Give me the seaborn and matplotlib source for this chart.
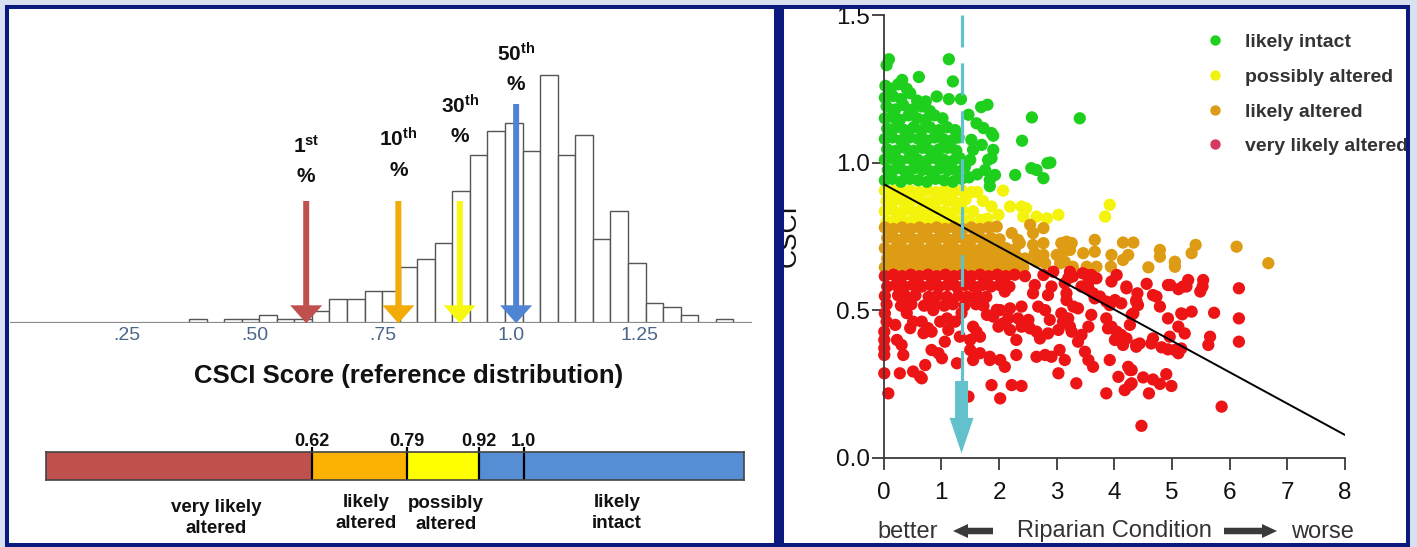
import numpy as np
import pandas as pd
import matplotlib
matplotlib.use("Agg")
import matplotlib.pyplot as plt
import seaborn as sns
from matplotlib.patches import Rectangle, FancyArrow
from matplotlib.lines import Line2D

# ====================== DATA ======================
# Left: reference distribution histogram (counts per bin)
hist_counts = [1, 0, 1, 1, 2, 1, 1, 3, 6, 6, 8, 8, 14, 16, 20, 33, 42, 48, 50, 43,
               62, 42, 47, 21, 28, 15, 5, 4, 2, 0, 1]
hist_first_edge = 0.371
hist_bin_width = 0.0343

axis_ticks = [0.25, 0.50, 0.75, 1.0, 1.25]
axis_tick_labels = [".25", ".50", ".75", "1.0", "1.25"]

pct_ordinals = ["1^{st}", "10^{th}", "30^{th}", "50^{th}"]
pct_positions = [0.60, 0.78, 0.90, 1.01]
pct_colors = ["#c0504d", "#f2ac05", "#f7f712", "#4f83d3"]

band_edges = [0.143, 0.62, 0.79, 0.92, 1.395]
band_colors = ["#c0504d", "#fbb203", "#ffff00", "#558ed5"]
band_marks = [0.62, 0.79, 0.92, 1.0]
band_mark_labels = ["0.62", "0.79", "0.92", "1.0"]
band_names = ["very likely\naltered", "likely\naltered", "possibly\naltered", "likely\nintact"]

# Right: CSCI vs riparian condition
status_order = ["likely intact", "possibly altered", "likely altered", "very likely altered"]
dot_colors = ["#1ecf1e", "#f3f30c", "#de9c14", "#ec1414"]
legend_colors = ["#1fd11f", "#f2f212", "#dc9c1a", "#d63a62"]

trend_x = [0, 8]
trend_y = [0.927, 0.077]
riparian_threshold = 1.35

green_pts = [
    (0.03, 1.26), (0.12, 1.25), (0.25, 1.265), (0.40, 1.25),
    (0.02, 1.22), (0.16, 1.225), (0.30, 1.215), (0.46, 1.235), (0.58, 1.21),
    (0.05, 1.19), (0.20, 1.18), (0.34, 1.195), (0.50, 1.18), (0.66, 1.19), (0.80, 1.175),
    (0.02, 1.15), (0.14, 1.155), (0.28, 1.145), (0.43, 1.16), (0.58, 1.15), (0.72, 1.145),
    (0.88, 1.16), (1.02, 1.15),
    (0.06, 1.115), (0.22, 1.12), (0.36, 1.11), (0.52, 1.12), (0.66, 1.11), (0.80, 1.12),
    (0.96, 1.11), (1.10, 1.12), (1.24, 1.11),
    (0.02, 1.08), (0.15, 1.085), (0.30, 1.075), (0.45, 1.085), (0.60, 1.08), (0.74, 1.075),
    (0.88, 1.085), (1.03, 1.08), (1.18, 1.075), (1.30, 1.085),
    (0.06, 1.045), (0.21, 1.04), (0.37, 1.05), (0.52, 1.04), (0.67, 1.05), (0.81, 1.04),
    (0.96, 1.045), (1.11, 1.05), (1.26, 1.04),
    (0.02, 1.01), (0.14, 1.015), (0.29, 1.005), (0.44, 1.015), (0.59, 1.01), (0.74, 1.005),
    (0.89, 1.015), (1.04, 1.01), (1.19, 1.005), (1.32, 1.015),
    (0.07, 0.975), (0.22, 0.98), (0.37, 0.97), (0.52, 0.98), (0.67, 0.975), (0.82, 0.97),
    (0.97, 0.98), (1.12, 0.975), (1.27, 0.97),
    (0.02, 0.94), (0.15, 0.945), (0.30, 0.935), (0.45, 0.945), (0.60, 0.94), (0.75, 0.935),
    (0.90, 0.945), (1.05, 0.94), (1.20, 0.935), (1.35, 0.945),
    (0.09, 1.35), (0.05, 1.33), (1.13, 1.35), (1.20, 1.275), (0.61, 1.29), (0.32, 1.28),
    (0.92, 1.224), (1.13, 1.215), (1.34, 1.215), (0.73, 1.207), (1.69, 1.188), (1.80, 1.196),
    (1.47, 1.162), (1.61, 1.133), (1.73, 1.117), (1.87, 1.10), (1.52, 1.077), (1.55, 1.043),
    (1.50, 1.009), (1.41, 0.986), (1.90, 1.043), (1.81, 1.009), (1.76, 0.975), (1.84, 0.941),
    (1.90, 1.091), (2.40, 1.074), (2.57, 1.153), (3.40, 1.150), (1.87, 1.015), (1.93, 0.958),
    (2.28, 0.958), (2.56, 0.981), (2.65, 0.975), (2.84, 0.998), (2.89, 1.00), (2.77, 0.947),
    (1.84, 0.92), (1.62, 0.96), (1.48, 0.95), (1.70, 1.06),
]

yellow_pts = [
    (0.02, 0.905), (0.16, 0.905), (0.31, 0.90), (0.46, 0.905), (0.61, 0.90), (0.76, 0.905),
    (0.91, 0.90), (1.06, 0.905), (1.21, 0.90), (1.36, 0.905), (1.52, 0.90),
    (0.05, 0.87), (0.20, 0.875), (0.35, 0.865), (0.50, 0.875), (0.65, 0.87), (0.80, 0.865),
    (0.95, 0.875), (1.10, 0.87), (1.25, 0.865), (1.42, 0.875),
    (0.02, 0.835), (0.16, 0.84), (0.31, 0.83), (0.46, 0.84), (0.61, 0.835), (0.76, 0.83),
    (0.91, 0.84), (1.06, 0.835), (1.20, 0.83), (1.36, 0.84), (1.55, 0.835),
    (0.05, 0.80), (0.20, 0.805), (0.35, 0.80), (0.50, 0.805), (0.65, 0.80), (0.80, 0.805),
    (0.95, 0.80), (1.12, 0.805), (1.30, 0.80), (1.48, 0.805),
    (2.07, 0.905), (1.87, 0.851), (2.19, 0.851), (2.39, 0.851), (2.47, 0.845), (1.99, 0.823),
    (1.69, 0.806), (2.42, 0.817), (2.65, 0.817), (2.83, 0.811), (3.03, 0.823), (3.92, 0.857),
    (3.84, 0.817), (1.72, 0.87), (1.62, 0.90), (1.80, 0.81),
]

orange_pts = [
    (0.02, 0.78), (0.17, 0.775), (0.32, 0.78), (0.47, 0.775), (0.62, 0.78), (0.77, 0.775),
    (0.92, 0.78), (1.07, 0.775), (1.22, 0.78), (1.37, 0.775), (1.52, 0.78), (1.67, 0.775),
    (1.82, 0.78),
    (0.06, 0.745), (0.21, 0.74), (0.36, 0.745), (0.51, 0.74), (0.66, 0.745), (0.81, 0.74),
    (0.96, 0.745), (1.11, 0.74), (1.26, 0.745), (1.41, 0.74), (1.56, 0.745), (1.71, 0.74),
    (1.86, 0.745), (2.01, 0.74),
    (0.02, 0.71), (0.17, 0.705), (0.32, 0.71), (0.47, 0.705), (0.62, 0.71), (0.77, 0.705),
    (0.92, 0.71), (1.07, 0.705), (1.22, 0.71), (1.37, 0.705), (1.52, 0.71), (1.67, 0.705),
    (1.82, 0.71), (1.97, 0.705), (2.12, 0.71), (2.27, 0.705),
    (0.06, 0.675), (0.21, 0.68), (0.36, 0.675), (0.51, 0.68), (0.66, 0.675), (0.81, 0.68),
    (0.96, 0.675), (1.11, 0.68), (1.26, 0.675), (1.41, 0.68), (1.56, 0.675), (1.71, 0.68),
    (1.86, 0.675), (2.01, 0.68), (2.16, 0.675), (2.31, 0.68), (2.45, 0.675),
    (0.02, 0.645), (0.17, 0.65), (0.32, 0.645), (0.47, 0.65), (0.62, 0.645), (0.77, 0.65),
    (0.92, 0.645), (1.07, 0.65), (1.22, 0.645), (1.37, 0.65), (1.52, 0.645), (1.67, 0.65),
    (1.82, 0.645), (1.97, 0.65), (2.12, 0.645), (2.27, 0.65), (2.42, 0.645),
    (1.96, 0.783), (2.22, 0.761), (2.33, 0.738), (2.54, 0.789), (2.59, 0.761), (2.77, 0.778),
    (2.36, 0.727), (2.59, 0.721), (2.77, 0.727), (2.62, 0.693), (2.77, 0.687), (3.08, 0.727),
    (3.17, 0.732), (3.26, 0.727), (3.11, 0.698), (3.23, 0.704), (3.00, 0.687), (3.14, 0.664),
    (2.80, 0.659), (2.65, 0.664), (3.66, 0.738), (3.66, 0.698), (3.46, 0.693), (3.69, 0.647),
    (3.52, 0.647), (3.95, 0.687), (3.94, 0.647), (4.15, 0.729), (4.33, 0.729), (4.15, 0.670),
    (4.24, 0.687), (4.59, 0.645), (4.79, 0.704), (4.79, 0.681), (5.05, 0.664), (5.05, 0.647),
    (5.34, 0.693), (5.41, 0.721), (6.12, 0.715), (6.67, 0.659), (3.06, 0.659), (3.28, 0.647),
    (3.14, 0.710),
]

red_pts = [
    (0.02, 0.615), (0.17, 0.62), (0.32, 0.615), (0.47, 0.62), (0.62, 0.615), (0.77, 0.62),
    (0.92, 0.615), (1.07, 0.62), (1.22, 0.615), (1.37, 0.62), (1.52, 0.615), (1.67, 0.62),
    (1.82, 0.615), (1.97, 0.62), (2.12, 0.615), (2.27, 0.62), (2.45, 0.615),
    (0.06, 0.58), (0.21, 0.585), (0.36, 0.58), (0.51, 0.585), (0.66, 0.58), (0.81, 0.585),
    (0.96, 0.58), (1.11, 0.585), (1.26, 0.58), (1.41, 0.585), (1.56, 0.58), (1.71, 0.585),
    (1.86, 0.58), (2.01, 0.585), (2.18, 0.58),
    (0.02, 0.548), (0.25, 0.55), (0.40, 0.545), (0.55, 0.55), (0.78, 0.545), (0.93, 0.55),
    (1.10, 0.545), (1.30, 0.55), (1.45, 0.545), (1.62, 0.55), (1.78, 0.545),
    (0.05, 0.52), (0.30, 0.515), (0.48, 0.52), (0.70, 0.515), (0.88, 0.52), (1.05, 0.515),
    (1.20, 0.52), (1.40, 0.515), (1.60, 0.52), (1.73, 0.515),
    (0.02, 0.489), (0.05, 0.461), (0.01, 0.427), (0.01, 0.399), (0.01, 0.371), (0.01, 0.348),
    (0.01, 0.286), (0.08, 0.218), (0.51, 0.461), (0.46, 0.439), (0.66, 0.461), (0.77, 0.439),
    (0.83, 0.427), (0.69, 0.422), (0.23, 0.399), (0.31, 0.382), (0.34, 0.348), (0.28, 0.286),
    (0.51, 0.292), (0.63, 0.275), (0.72, 0.314), (0.66, 0.269), (0.83, 0.365), (0.95, 0.354),
    (1.01, 0.337), (1.06, 0.393), (1.12, 0.433), (0.98, 0.461), (1.27, 0.320), (1.32, 0.410),
    (1.47, 0.207), (1.50, 0.399), (1.50, 0.365), (1.55, 0.331), (1.67, 0.354), (1.55, 0.444),
    (1.61, 0.427), (1.67, 0.410), (1.90, 0.478), (1.96, 0.501), (1.84, 0.331), (1.87, 0.246),
    (1.24, 0.461), (1.10, 0.472), (1.79, 0.484), (0.86, 0.50), (0.40, 0.49), (0.20, 0.45),
    (1.35, 0.49),
    (2.77, 0.619), (2.94, 0.630), (3.23, 0.630), (3.20, 0.608), (3.52, 0.619), (3.60, 0.619),
    (4.04, 0.619), (3.95, 0.597), (2.62, 0.585), (2.91, 0.580), (2.59, 0.557), (2.85, 0.551),
    (2.68, 0.512), (2.80, 0.500), (2.39, 0.512), (2.19, 0.506), (3.17, 0.557), (3.17, 0.534),
    (3.29, 0.512), (3.37, 0.506), (3.08, 0.489), (3.20, 0.472), (3.43, 0.580), (3.55, 0.574),
    (3.63, 0.557), (3.66, 0.540), (3.75, 0.546), (3.86, 0.529), (3.92, 0.517), (4.01, 0.534),
    (4.12, 0.523), (4.21, 0.574), (4.33, 0.489), (4.38, 0.529), (2.10, 0.563), (2.02, 0.500),
    (1.99, 0.444), (2.07, 0.455), (2.16, 0.472), (2.19, 0.433), (2.30, 0.399), (2.33, 0.472),
    (2.39, 0.444), (2.51, 0.467), (2.54, 0.438), (2.65, 0.427), (2.71, 0.404), (2.85, 0.421),
    (2.88, 0.467), (3.03, 0.433), (3.11, 0.461), (3.23, 0.444), (3.26, 0.427), (3.37, 0.393),
    (3.43, 0.416), (3.55, 0.444), (3.60, 0.484), (3.86, 0.472), (3.89, 0.438), (3.95, 0.444),
    (4.04, 0.427), (4.01, 0.399), (4.12, 0.416), (4.21, 0.404), (4.27, 0.450), (4.38, 0.376),
    (4.15, 0.382), (1.84, 0.342), (2.02, 0.331), (2.10, 0.308), (2.30, 0.348), (2.65, 0.342),
    (2.80, 0.348), (2.91, 0.342), (3.05, 0.365), (3.14, 0.331), (3.49, 0.359), (3.55, 0.331),
    (3.63, 0.308), (3.03, 0.286), (3.34, 0.252), (3.92, 0.331), (4.07, 0.274), (4.24, 0.308),
    (4.27, 0.297), (4.18, 0.229), (4.27, 0.246), (3.86, 0.218), (2.22, 0.246), (2.39, 0.243),
    (2.02, 0.201), (4.47, 0.108),
    (4.56, 0.589), (4.93, 0.585), (5.11, 0.571), (5.19, 0.580), (5.28, 0.602), (5.54, 0.602),
    (5.49, 0.563), (6.16, 0.574), (4.38, 0.534), (4.41, 0.517), (4.67, 0.551), (4.73, 0.546),
    (4.79, 0.512), (4.30, 0.484), (4.93, 0.472), (5.16, 0.489), (5.34, 0.495), (5.73, 0.491),
    (6.16, 0.472), (5.11, 0.444), (5.22, 0.421), (4.96, 0.410), (4.67, 0.404), (4.64, 0.387),
    (4.38, 0.382), (4.44, 0.387), (4.82, 0.374), (4.93, 0.367), (5.05, 0.365), (5.11, 0.354),
    (5.16, 0.370), (5.66, 0.410), (5.63, 0.382), (6.16, 0.393), (4.30, 0.297), (4.50, 0.272),
    (4.67, 0.265), (4.79, 0.250), (4.90, 0.283), (4.99, 0.243), (4.30, 0.252), (4.60, 0.218),
    (5.86, 0.173), (5.18, 0.486),
    (3.14, 0.591), (3.28, 0.614), (3.45, 0.625), (3.56, 0.597), (4.40, 0.557), (4.97, 0.585),
    (5.25, 0.580), (5.53, 0.580), (3.69, 0.608), (4.21, 0.580),
]

# ====================== STYLE / LAYOUT ======================
sns.set_style("white")
plt.rcParams["font.family"] = ["Liberation Sans", "DejaVu Sans"]
plt.rcParams["mathtext.fontset"] = "custom"
plt.rcParams["mathtext.rm"] = "Liberation Sans"
plt.rcParams["mathtext.bf"] = "Liberation Sans:bold"

W, H = 1417, 547
BG = "#d9e0f0"
NAVY = "#0c1a7d"
fig = plt.figure(figsize=(W / 100, H / 100), dpi=100, facecolor=BG)


def fx(px):
    return px / W


def fy(py):
    return 1 - py / H


def frac_rect(l, t, r, b):
    return [l / W, 1 - b / H, (r - l) / W, (b - t) / H]


def fig_rect_patch(l, t, r, b, **kw):
    return Rectangle((fx(l), fy(b)), (r - l) / W, (b - t) / H,
                     transform=fig.transFigure, **kw)


# panel backgrounds
fig.add_artist(fig_rect_patch(7, 7, 775.5, 545, fc="white", ec="none", zorder=-5))
fig.add_artist(fig_rect_patch(782, 7, 1408, 545, fc="white", ec="none", zorder=-5))

# ---------------- left: histogram ----------------
px_per_unit, px_offset = 512.0, -1.0
base_px, px_per_count = 323.3, 4.0
hl, hr, ht = 10, 752, 40
ax_h = fig.add_axes(frac_rect(hl, ht, hr, base_px))
edges = [float(hist_first_edge + hist_bin_width * i) for i in range(len(hist_counts) + 1)]
centers = [(edges[i] + edges[i + 1]) / 2 for i in range(len(hist_counts))]
hist_df = pd.DataFrame({"score": centers, "n": hist_counts})
sns.histplot(data=hist_df, x="score", weights="n", bins=edges, color="white",
             edgecolor="#555555", linewidth=1.0, alpha=1, ax=ax_h)
ax_h.set_xlim((hl - px_offset) / px_per_unit, (hr - px_offset) / px_per_unit)
ax_h.set_ylim(0, (base_px - ht) / px_per_count)
ax_h.patch.set_visible(False)
for s in ax_h.spines.values():
    s.set_visible(False)
ax_h.axhline(0, color="#8a8a8a", lw=1.6, zorder=3)
ax_h.set_xticks(axis_ticks, axis_tick_labels)
ax_h.set_yticks([])
ax_h.tick_params(axis="x", length=0, pad=3, labelsize=14, labelcolor="#4a6688")
ax_h.set(xlabel="", ylabel="")

arrow_top_px = [201, 201, 201, 104]
pct_sym_px = [177, 170, 137, 85]
for v, c, top_px, sym_px, ordn in zip(pct_positions, pct_colors, arrow_top_px,
                                      pct_sym_px, pct_ordinals):
    top = (base_px - top_px) / px_per_count
    ax_h.arrow(v, top, 0, -top, width=6 / px_per_unit, head_width=32 / px_per_unit,
               head_length=18 / px_per_count, length_includes_head=True,
               fc=c, ec="none", zorder=5)
    ax_h.text(v, (base_px - sym_px) / px_per_count, "%", ha="center", va="center",
              fontsize=15, fontweight="bold", color="#111111")
    ax_h.text(v, (base_px - sym_px + 31) / px_per_count, r"$\mathbf{" + ordn + "}$",
              ha="center", va="center", fontsize=15, color="#111111")

fig.text(fx(409), fy(376), "CSCI Score (reference distribution)", ha="center",
         va="center", fontsize=18.5, fontweight="bold", color="#111111")

# ---------------- left: colour band ----------------
bl, bt, br, bb = 46, 452, 744, 480
ax_b = fig.add_axes(frac_rect(bl, bt, br, bb))
for i, c in enumerate(band_colors):
    ax_b.barh(0.5, band_edges[i + 1] - band_edges[i], left=band_edges[i], height=1,
              color=c, edgecolor="none")
ax_b.set_xlim(band_edges[0], band_edges[-1])
ax_b.set_ylim(0, 1)
ax_b.set_xticks([])
ax_b.set_yticks([])
for s in ax_b.spines.values():
    s.set_color("#444444")
    s.set_linewidth(1.2)
bh = bb - bt
ax_b.vlines(band_marks, 0, 1 + 5 / bh, color="black", lw=1.6, clip_on=False)
for m, lab in zip(band_marks, band_mark_labels):
    ax_b.text(m, 1 + (bt - 441) / bh, lab, ha="center", va="center", fontsize=13,
              fontweight="bold", color="#111111")

name_pos = [(216, 518), (366, 513), (446, 514), (617, 513)]
for (cx, cy), nm in zip(name_pos, band_names):
    fig.text(fx(cx), fy(cy), nm, ha="center", va="center", fontsize=13.5,
             fontweight="bold", color="#111111", linespacing=1.3)

# ---------------- right: scatter ----------------
ax_s = fig.add_axes(frac_rect(883.7, 15, 1345, 457.7))
frames = []
for name, pts in [("possibly altered", yellow_pts), ("likely intact", green_pts),
                  ("likely altered", orange_pts), ("very likely altered", red_pts)]:
    frames.append(pd.DataFrame(pts, columns=["riparian", "csci"]).assign(status=name))
df = pd.concat(frames, ignore_index=True)

sns.scatterplot(data=df, x="riparian", y="csci", hue="status", hue_order=status_order,
                palette=dict(zip(status_order, dot_colors)), s=78, linewidth=0,
                legend=False, ax=ax_s, clip_on=False, zorder=2)
sns.lineplot(x=trend_x, y=trend_y, color="black", lw=1.4, ax=ax_s, zorder=3)
teal = "#63c1cb"
ax_s.plot([riparian_threshold, riparian_threshold], [1.5, 0.26], color=teal, lw=2.3,
          dashes=(10, 5), zorder=4, solid_capstyle="butt")
ax_s.arrow(riparian_threshold, 0.26, 0, 0.015 - 0.26, width=13 / 57.7,
           head_width=24 / 57.7, head_length=0.12, length_includes_head=True,
           fc=teal, ec="none", zorder=4)

ax_s.set_xlim(0, 8)
ax_s.set_ylim(0, 1.5)
ax_s.patch.set_visible(False)
ax_s.spines["top"].set_visible(False)
ax_s.spines["right"].set_visible(False)
for k in ("left", "bottom"):
    ax_s.spines[k].set_color("#3a3a3a")
    ax_s.spines[k].set_linewidth(1.3)
ax_s.set_xticks(range(9))
ax_s.set_yticks([0, 0.5, 1.0, 1.5], ["0.0", "0.5", "1.0", "1.5"])
ax_s.tick_params(length=8.6, width=1.3, color="#3a3a3a", labelsize=17.5,
                 labelcolor="#111111", left=True, bottom=True)
ax_s.tick_params(axis="x", pad=9)
ax_s.tick_params(axis="y", pad=1)
ax_s.set(xlabel="", ylabel="")

handles = [Line2D([], [], ls="none", marker="o", ms=7.5, mfc=c, mec="none")
           for c in legend_colors]
leg = ax_s.legend(handles, status_order, loc="upper left",
                  bbox_to_anchor=(fx(1205.3), fy(33.5)), bbox_transform=fig.transFigure,
                  frameon=False, borderpad=0, borderaxespad=0, handlelength=1.0,
                  handletextpad=1.05, labelspacing=0.88,
                  prop={"size": 14, "weight": "bold"})
for t in leg.get_texts():
    t.set_color("#333333")

fig.text(fx(789), fy(236), "CSCI", rotation=90, ha="center", va="center",
         fontsize=19, color="#111111")

grey = "#333333"
base_y = 537.5
fig.text(fx(908), fy(base_y), "better", ha="center", va="baseline", fontsize=17, color=grey)
fig.text(fx(1114), fy(base_y), "Riparian Condition", ha="center", va="baseline",
         fontsize=17, color=grey)
fig.text(fx(1322), fy(base_y), "worse", ha="center", va="baseline", fontsize=17, color=grey)
arrow_y = 531
fig.add_artist(FancyArrow(fx(993), fy(arrow_y), fx(953) - fx(993), 0, width=6.5 / H,
                          head_width=14 / H, head_length=15 / W,
                          length_includes_head=True, transform=fig.transFigure,
                          fc="#3a3a3a", ec="none", zorder=10))
fig.add_artist(FancyArrow(fx(1224), fy(arrow_y), fx(1277) - fx(1224), 0, width=6.5 / H,
                          head_width=14 / H, head_length=15 / W,
                          length_includes_head=True, transform=fig.transFigure,
                          fc="#3a3a3a", ec="none", zorder=10))

# ---------------- frames ----------------
fig.add_artist(fig_rect_patch(1410, 0, W, H, fc=BG, ec="none", zorder=45))
fig.add_artist(fig_rect_patch(7, 7, 775.5, 545, fill=False, ec=NAVY, lw=2.9, zorder=50))
fig.add_artist(fig_rect_patch(782, 7, 1408, 545, fill=False, ec=NAVY, lw=2.9, zorder=50))
fig.add_artist(fig_rect_patch(775.5, 5, 782, 547, fc=NAVY, ec="none", zorder=50))

fig.savefig("out.png", dpi=100, facecolor=fig.get_facecolor())
